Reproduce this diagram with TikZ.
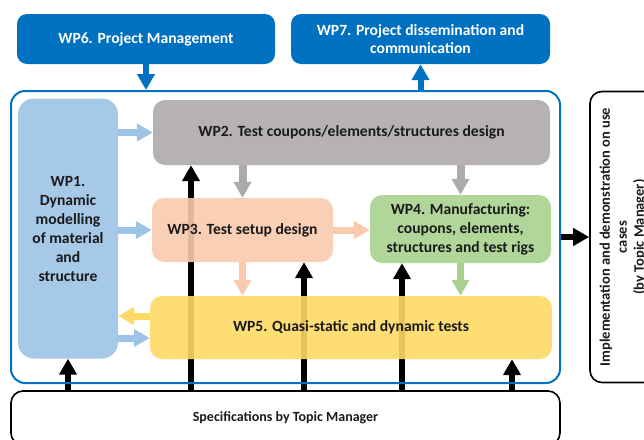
\documentclass[tikz,border=0pt]{standalone}
\usepackage{fontspec}
\setmainfont{Carlito}
\usetikzlibrary{arrows.meta,backgrounds}
\definecolor{wpblue}{HTML}{0070C0}
\definecolor{cone}{HTML}{9DC3E6}
\definecolor{ctwo}{HTML}{AEAAAA}
\definecolor{cthree}{HTML}{F8CBAD}
\definecolor{cfour}{HTML}{A9D18E}
\definecolor{cfive}{HTML}{FFD966}
\definecolor{txt}{HTML}{1A1A1A}
\begin{document}
\begin{tikzpicture}[x=1pt,y=-1pt,
  lbl/.style={font=\fontsize{15.6}{19}\selectfont\bfseries, align=center, inner sep=0pt},
  wpbox/.style={lbl, rounded corners=12pt, text=txt, fill opacity=0.9, text opacity=1},
  topbox/.style={lbl, rounded corners=10pt, fill=wpblue, text=white, font=\fontsize{15.6}{18}\selectfont\bfseries},
  barrow/.style={line width=6pt, -{Triangle[length=16pt,width=17pt]}, black},
  carrow/.style={line width=7pt, -{Triangle[length=16pt,width=17pt]}},
  garrow/.style={line width=8pt, -{Triangle[length=16pt,width=17pt]}}
]
\useasboundingbox (0,0) rectangle (644,439);

% top boxes
\node[topbox, minimum width=258pt, minimum height=50pt] (wp6) at (146,39) {WP6. Project Management};
\node[topbox, minimum width=259pt, minimum height=50pt] (wp7) at (420.5,39) {WP7. Project dissemination and\\communication};

% outer frame
\node[draw=wpblue, line width=2pt, rounded corners=14pt, minimum width=549pt, minimum height=292pt, inner sep=0pt] (outer) at (285.5,237) {};

% work packages
\node[wpbox, fill=cone, rounded corners=16pt, minimum width=100pt, minimum height=260pt] (wp1) at (68,228.5) {WP1.\\Dynamic\\modelling\\of material\\and\\structure};
\node[wpbox, fill=ctwo, minimum width=397pt, minimum height=65pt] (wp2) at (351.5,132.5) {WP2. Test coupons/elements/structures design};
\node[wpbox, fill=cthree, minimum width=181pt, minimum height=64pt] (wp3) at (242.5,230) {WP3. Test setup design};
\node[wpbox, fill=cfour, minimum width=181pt, minimum height=68pt] (wp4) at (460.5,229) {WP4. Manufacturing:\\coupons, elements,\\structures and test rigs};
\node[wpbox, fill=cfive, minimum width=402pt, minimum height=63pt] (wp5) at (351,327.5) {WP5. Quasi-static and dynamic tests};

% bottom and right boxes
\node[draw=black, line width=1.6pt, rounded corners=12pt, minimum width=549pt, minimum height=54pt, lbl, font=\fontsize{14}{16}\selectfont\bfseries, text=txt] (specs) at (285.5,418) {Specifications by Topic Manager};
\node[draw=black, line width=1.6pt, rounded corners=12pt, rotate=90, minimum width=291pt, minimum height=66pt, lbl, font=\fontsize{14.5}{17}\selectfont\bfseries, text=txt] (impl) at (623,237) {Implementation and demonstration on use\\cases\\(by Topic Manager)};

% columns for specification arrows
\coordinate (xb) at (191,0);
\coordinate (xc) at (304,0);
\coordinate (xd) at (402,0);
\coordinate (xe) at (512,0);

% black arrows behind the work packages
\begin{scope}[on background layer]
\draw[barrow] (wp1.south |- specs.north) -- (wp1.south);
\draw[barrow] (xb |- specs.north) -- (xb |- wp2.south);
\draw[barrow] (xc |- specs.north) -- (xc |- wp3.south);
\draw[barrow] (xd |- specs.north) -- (xd |- wp4.south);
\draw[barrow] (xe |- specs.north) -- (xe |- wp5.south);
\end{scope}

% management arrows
\draw[wpblue, line width=6pt, -{Triangle[length=16pt,width=17pt]}] (wp6.south) -- (wp6.south |- outer.north);
\draw[wpblue, line width=6pt, -{Triangle[length=16pt,width=17pt]}] (wp7.south |- outer.north) -- (wp7.south);

% coloured flows
\draw[carrow, cone] (wp2.west -| wp1.east) -- (wp2.west);
\draw[carrow, cone] (wp3.west -| wp1.east) -- (wp3.west);
\draw[carrow, cone] ([yshift=-10.5pt]wp5.west -| wp1.east) -- ([yshift=-10.5pt]wp5.west);
\draw[carrow, cfive] ([yshift=11.5pt]wp5.west) -- ([yshift=11.5pt]wp5.west -| wp1.east);
\draw[garrow, ctwo] (wp2.south -| wp3.north) -- (wp3.north);
\draw[garrow, ctwo] (wp2.south -| wp4.north) -- (wp4.north);
\draw[carrow, cthree] (wp3.east) -- (wp3.east -| wp4.west);
\draw[carrow, cthree] (wp3.south) -- (wp3.south |- wp5.north);
\draw[carrow, cfour] (wp4.south) -- (wp4.south |- wp5.north);

% to implementation
\draw[barrow] (outer.east) -- (impl.north);
\end{tikzpicture}
\end{document}
